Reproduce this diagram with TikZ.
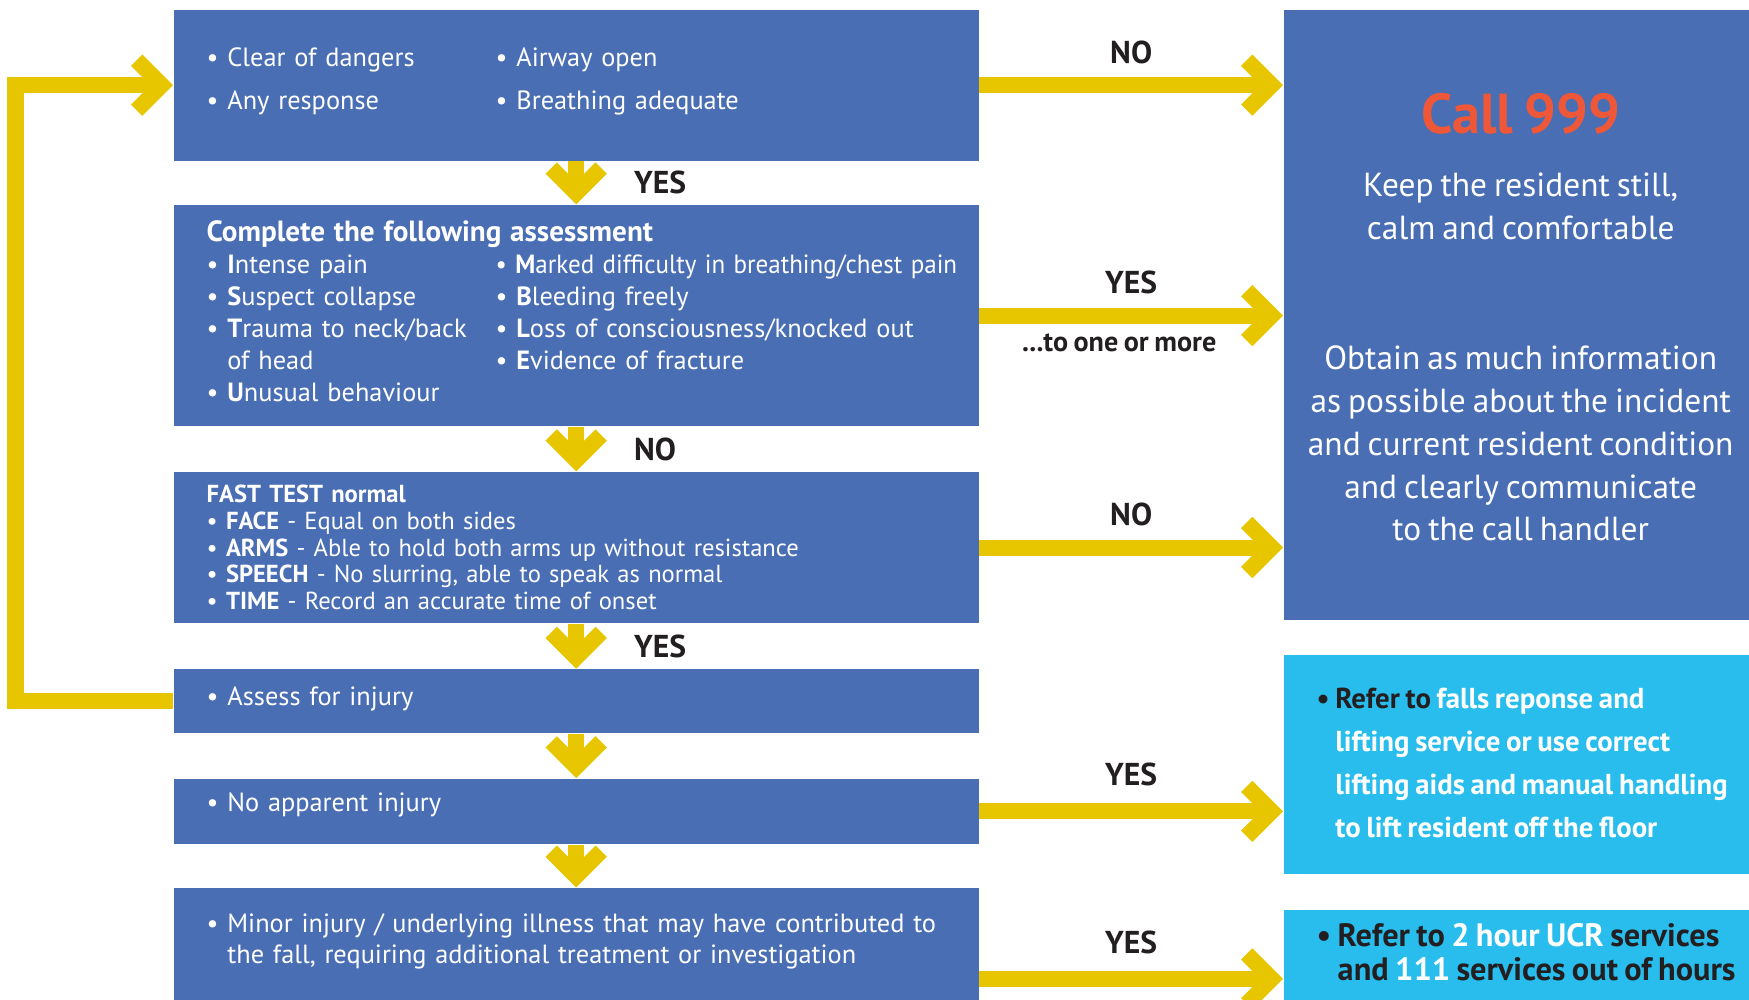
\documentclass[tikz,border=0pt]{standalone}
\usepackage{fontspec}
\setmainfont{PT Sans}[WordSpace=0.78]
\usepackage{xcolor}
\usepackage{tikz}
\usetikzlibrary{positioning}
\usetikzlibrary{calc}
\usetikzlibrary{arrows.meta}

\definecolor{boxblue}{RGB}{73,110,180}
\definecolor{flowyellow}{RGB}{231,198,0}
\definecolor{skyblue}{RGB}{41,189,238}
\definecolor{callred}{RGB}{238,88,56}
\definecolor{darktext}{RGB}{35,31,32}

\newcommand{\liftup}[2]{\raisebox{#1}[\height][\depth]{#2}}

\begin{document}
\begin{tikzpicture}[
  flowbox/.style={rectangle, fill=boxblue, text=white, minimum width=8.05cm, text width=7.39cm, inner xsep=0.33cm, inner ysep=0.05cm, align=left, font=\fontsize{7.5}{9.1}\selectfont},
  sidebox/.style={rectangle, fill=#1, minimum width=4.66cm, inner sep=0},
  flow/.style={draw=flowyellow, line width=0.16cm, line join=miter, -{Straight Barb[length=0.25cm, width=0.5cm]}},
  flowlabel/.style={text=darktext, inner sep=0, font=\bfseries\fontsize{9}{10}\selectfont}
]
 \useasboundingbox (0,0) rectangle (17.49,-10);

 \node (check) at (1.73,-0.09) [flowbox, anchor=north west, minimum height=1.51cm, font=\fontsize{7.5}{12.2}\selectfont] {
   \liftup{0.06cm}{\begin{tabular}[t]{@{}p{2.89cm}@{}l@{}}
   \textbullet~Clear of dangers & \textbullet~Airway open \\
   \textbullet~Any response & \textbullet~Breathing adequate
   \end{tabular}} };
 \node (istumble) [flowbox, below=0.43cm of check, minimum height=2.21cm] {
   {\bfseries\fontsize{8.3}{9.1}\selectfont Complete the following assessment} \\
   \begin{tabular}[t]{@{}p{2.89cm}@{}l@{}}
   \textbullet~\textbf{I}ntense pain & \scalebox{0.95}[1]{\textbullet~\textbf{M}arked difficulty in breathing/chest pain} \\
   \textbullet~\textbf{S}uspect collapse & \textbullet~\textbf{B}leeding freely \\
   \textbullet~\textbf{T}rauma to neck/back & \textbullet~\textbf{L}oss of consciousness/knocked out \\
   \phantom{\textbullet~}of head & \textbullet~\textbf{E}vidence of fracture \\
   \textbullet~\textbf{U}nusual behaviour &
   \end{tabular} };
 \node (fast) [flowbox, below=0.445cm of istumble, minimum height=1.51cm, font=\fontsize{7}{7.6}\selectfont] {
   \textbf{FAST TEST normal} \\
   \textbullet~\textbf{FACE} - Equal on both sides \\
   \textbullet~\textbf{ARMS} - Able to hold both arms up without resistance \\
   \textbullet~\textbf{SPEECH} - No slurring, able to speak as normal \\
   \textbullet~\textbf{TIME} - Record an accurate time of onset };
 \node (injury) [flowbox, below=0.45cm of fast, minimum height=0.64cm] { \liftup{0.02cm}{\textbullet~Assess for injury} };
 \node (noinjury) [flowbox, below=0.44cm of injury, minimum height=0.65cm] { \liftup{0.06cm}{\textbullet~No apparent injury} };
 \node (minor) [flowbox, below=0.43cm of noinjury, minimum height=1.2cm, font=\fontsize{7.5}{8.8}\selectfont] {
   \liftup{0.06cm}{\begin{tabular}[t]{@{}l@{}}
   \textbullet~Minor injury / underlying illness that may have contributed to \\
   \phantom{\textbullet~}the fall, requiring additional treatment or investigation
   \end{tabular}} };

 \node (emergency) at (12.83,-0.09) [sidebox=boxblue, anchor=north west, minimum height=6.10cm] {};
 \node (call) at ($ (emergency.north) + (0.04cm,-1.05cm) $) [text=callred, font=\bfseries\fontsize{16}{18}\selectfont] { Call 999 };
 \node (keep) at ($ (emergency.north) + (0.04cm,-1.975cm) $) [text=white, align=center, font=\fontsize{9.5}{12.2}\selectfont] { Keep the resident still,\\ calm and comfortable };
 \node (obtain) at ($ (emergency.north) + (0.04cm,-4.345cm) $) [text=white, align=center, font=\fontsize{9.5}{12.2}\selectfont] { Obtain as much information\\ as possible about the incident\\ and current resident condition\\ and clearly communicate\\ to the call handler };

 \node (lifting) [sidebox=skyblue, below=0.335cm of emergency, minimum height=2.195cm] {};
 \node (liftingtext) [right=0.33cm of lifting.west, anchor=west, inner sep=0, text=white, font=\bfseries\fontsize{8.2}{12.2}\selectfont] {
   \begin{tabular}{@{}l@{}l@{}}
   \textcolor{darktext}{\textbullet~} & \textcolor{darktext}{Refer to} falls reponse and \\
   & lifting service or use correct \\
   & lifting aids and manual handling \\
   & to lift resident off the floor
   \end{tabular} };
 \node (ucr) [sidebox=skyblue, below=0.34cm of lifting, minimum height=0.94cm] {};
 \node (ucrtext) [right=0.33cm of ucr.west, anchor=west, inner sep=0, text=darktext, font=\bfseries\fontsize{9.2}{9.7}\selectfont] {
   \begin{tabular}{@{}l@{}l@{}}
   \textbullet~ & Refer to \textcolor{white}{2 hour UCR} services \\
   & and \textcolor{white}{111} services out of hours
   \end{tabular} };

 \draw [flow] (check.south) -- (istumble.north) node [midway, right=0.5cm, flowlabel] (yesdown) {YES};
 \draw [flow] (istumble.south) -- (fast.north) node [midway, right=0.5cm, flowlabel] (nodown) {NO};
 \draw [flow] (fast.south) -- (injury.north) node [midway, right=0.5cm, flowlabel] (yesfast) {YES};
 \draw [flow] (injury.south) -- (noinjury.north);
 \draw [flow] (noinjury.south) -- (minor.north);

 \draw [flow] (check.east) -- (check.east -| emergency.west) node [midway, above=0.13cm, flowlabel] (nocheck) {NO};
 \draw [flow] (istumble.east) -- (istumble.east -| emergency.west) node [midway, above=0.14cm, flowlabel] (yesistumble) {YES}
   node [midway, below=0.1cm, xshift=-0.12cm, flowlabel, font=\bfseries\fontsize{8}{9}\selectfont] (oneormore) {...to one or more};
 \draw [flow] (fast.east) -- (fast.east -| emergency.west) node [midway, above=0.14cm, flowlabel] (nofast) {NO};
 \draw [flow] (noinjury.east) -- (noinjury.east -| lifting.west) node [midway, above=0.17cm, flowlabel] (yeslift) {YES};
 \coordinate (minorout) at ($ (minor.south east) + (0,0.3cm) $);
 \draw [flow] (minorout) -- (minorout -| ucr.west) node [midway, above=0.17cm, flowlabel] (yesucr) {YES};

 \coordinate (loop) at (0.155,-4);
 \draw [flow] (injury.west) -| (loop) |- (check.west);
\end{tikzpicture}
\end{document}
